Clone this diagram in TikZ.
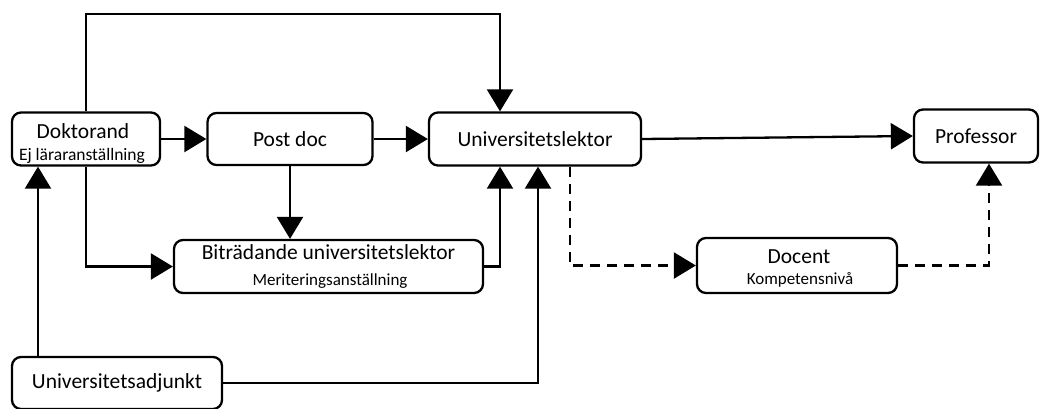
\documentclass[tikz,border=0pt]{standalone}
\usepackage{fontspec}
\setmainfont{Carlito}
\usetikzlibrary{arrows.meta}
\begin{document}
\begin{tikzpicture}[x=1pt,y=-1pt,
  box/.style={draw, line width=2.3pt, rounded corners=9pt, align=center, inner sep=0pt, fill=white,
    font=\fontsize{21.5}{22}\selectfont},
  maintxt/.style={anchor=base, inner sep=0pt, font=\fontsize{21.5}{22}\selectfont},
  subtxt/.style={anchor=base, inner sep=0pt, font=\fontsize{17}{18}\selectfont},
  conn/.style={line width=2.3pt, -{Triangle[length=22pt,width=26pt]}},
  dconn/.style={conn, dash pattern=on 10pt off 7pt}]
\useasboundingbox (0,0) rectangle (1048,408);
\coordinate (top) at (0,14);
\node[box, minimum width=148pt, minimum height=53pt] (dok) at (86,139) {};
\node[maintxt] (dokA) at (83,138) {Doktorand};
\node[subtxt, font=\fontsize{17.5}{18}\selectfont] (dokB) at (82,160) {Ej läraranställning};
\node[box, minimum width=165pt, minimum height=52pt] (pd) at (290,139) {Post doc};
\node[box, minimum width=212pt, minimum height=53pt] (ul) at (535,139) {Universitetslektor};
\node[box, minimum width=124pt, minimum height=53pt] (prof) at (976,136) {Professor};
\node[box, minimum width=309pt, minimum height=53pt] (bit) at (328.5,266.5) {};
\node[maintxt] (bitA) at (328.5,259) {Biträdande universitetslektor};
\node[subtxt] (bitB) at (330,285) {Meriteringsanställning};
\node[box, minimum width=200pt, minimum height=55pt] (doc) at (797,265.5) {};
\node[maintxt] (docA) at (799,263) {Docent};
\node[subtxt] (docB) at (800,284) {Kompetensnivå};
\node[box, minimum width=210pt, minimum height=52pt] (adj) at (117,383) {Universitetsadjunkt};

\draw[conn] (dok.north) -- (dok.north |- top) -| ([xshift=-35pt]ul.north);
\draw[conn] (dok.east) -- (pd.west);
\draw[conn] (pd.east) -- (ul.west);
\draw[conn] (ul.east) -- (prof.west);
\draw[conn] (pd.south) -- (pd.south |- bit.north);
\draw[conn] (dok.south) |- (bit.west);
\draw[conn] (bit.east) -| ([xshift=-35pt]ul.south);
\draw[conn] (adj.east) -| ([xshift=3pt]ul.south);
\draw[conn] ([xshift=-79pt]adj.north) -- ([xshift=-48pt]dok.south);
\draw[dconn] ([xshift=35pt]ul.south) |- (doc.west);
\draw[dconn] (doc.east) -| ([xshift=13pt]prof.south);
\end{tikzpicture}
\end{document}
